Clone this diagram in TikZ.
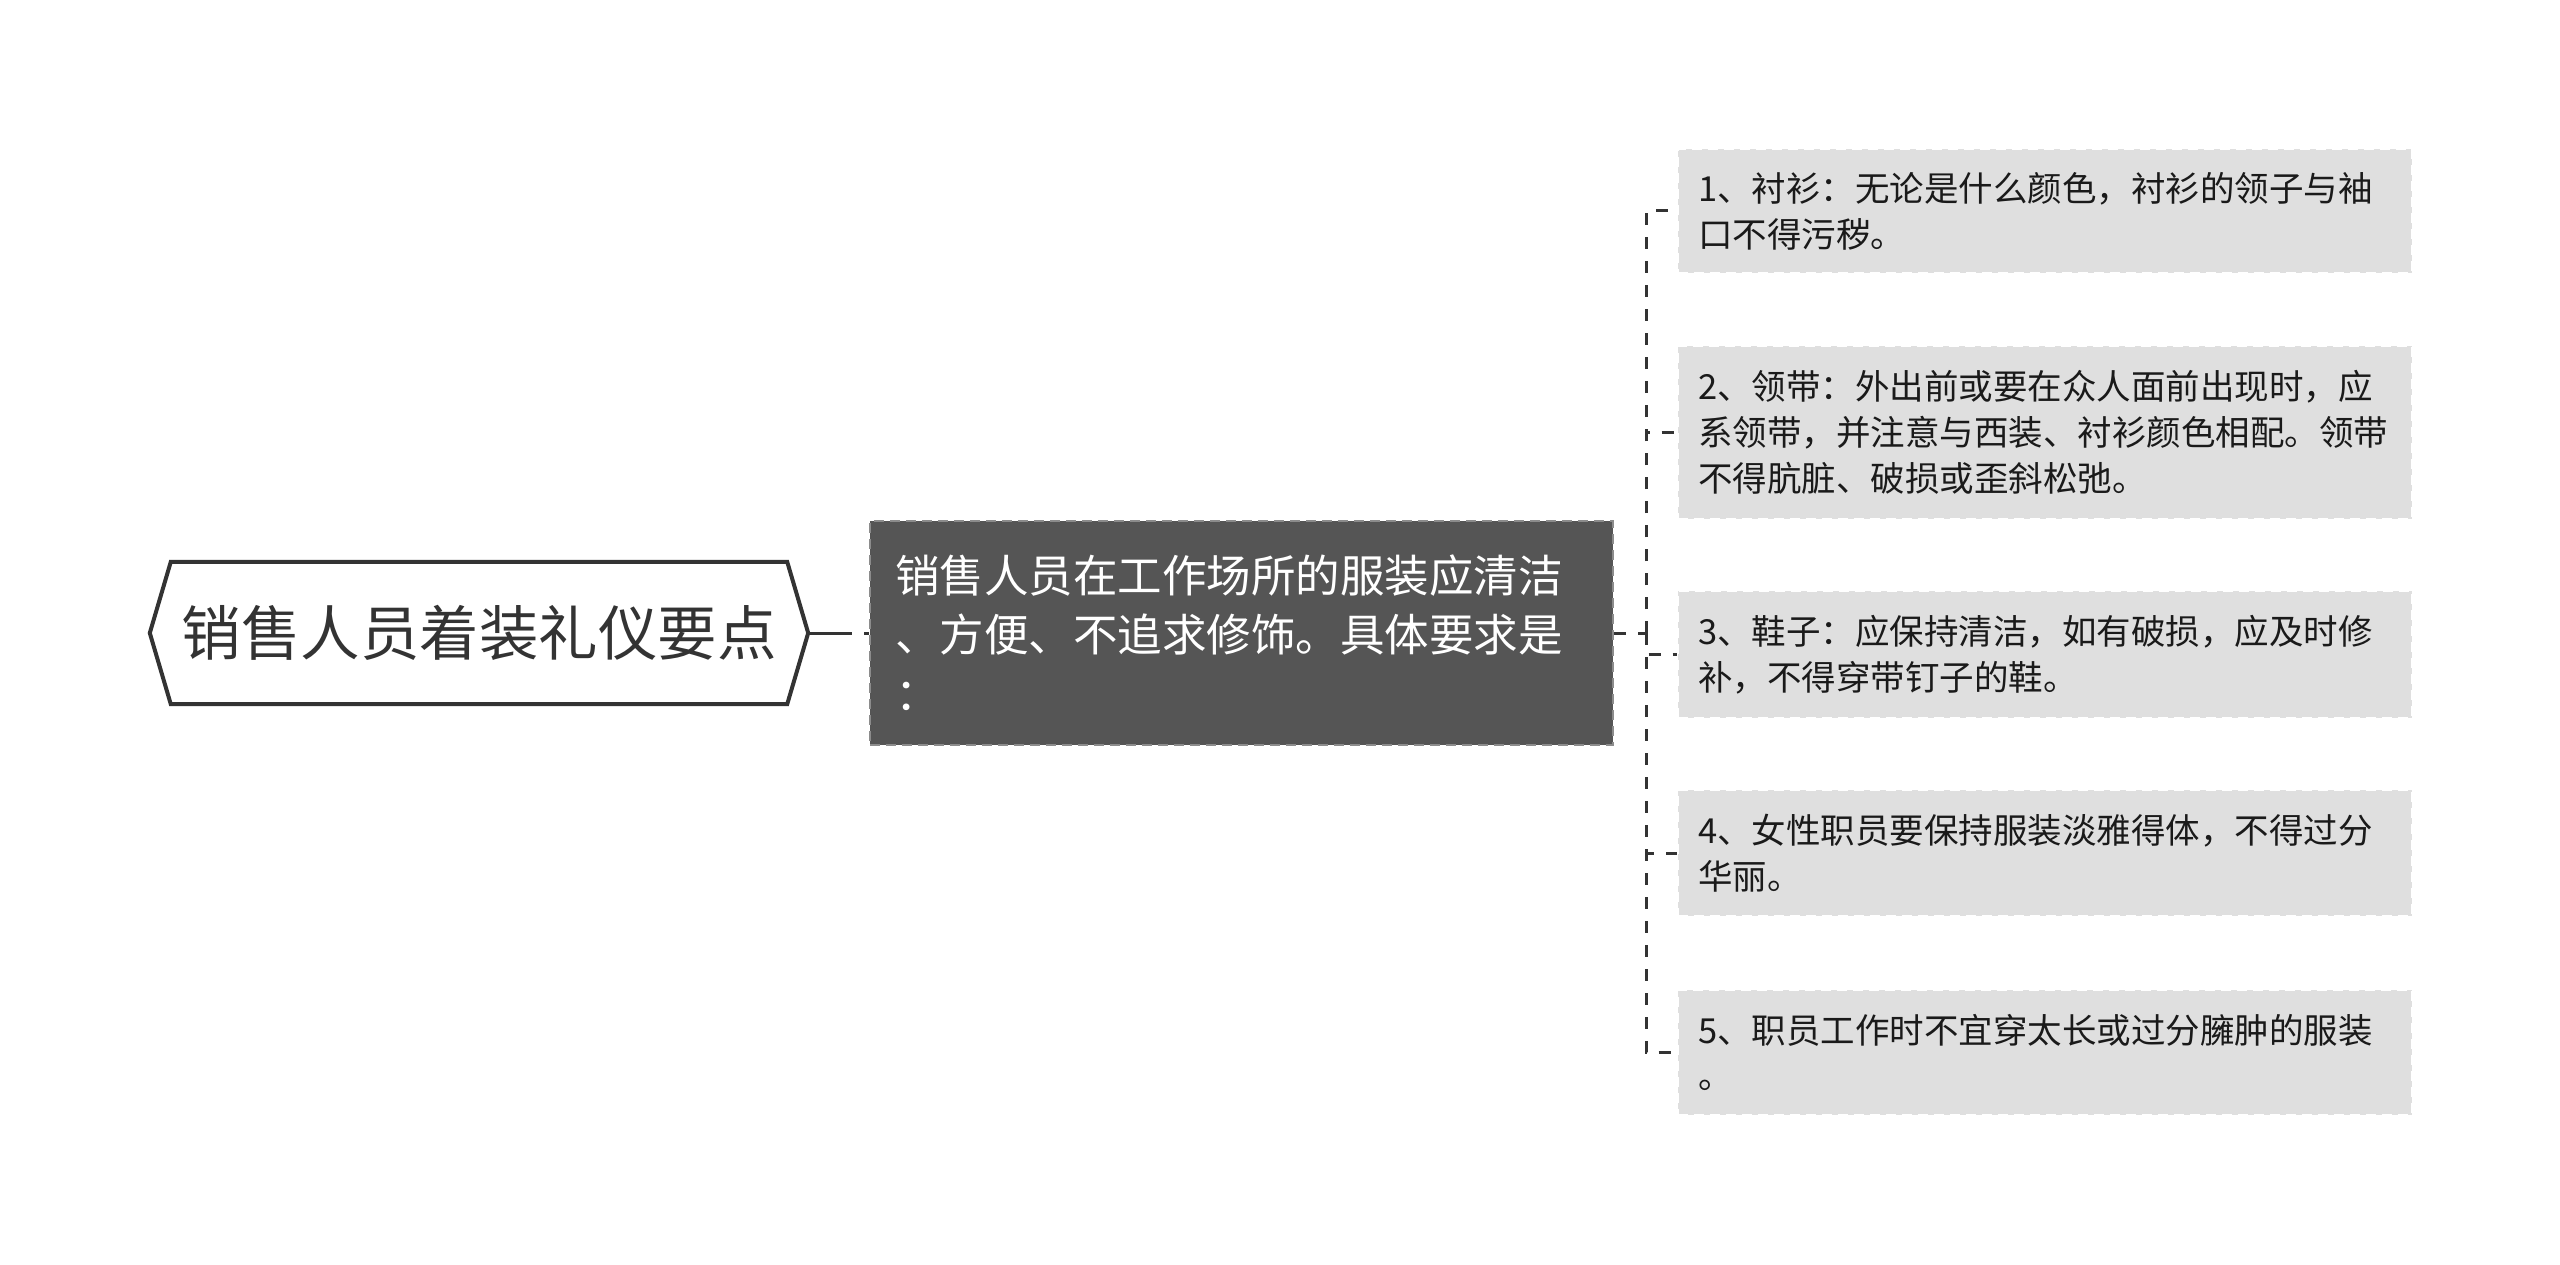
\documentclass[tikz,border=0pt]{standalone}
\usepackage{fontspec}
\setmainfont{Noto Sans CJK SC}
\usepackage{xcolor}
\usepackage{tikz}
\usetikzlibrary{arrows}

\definecolor{rootgray}{HTML}{333333}
\definecolor{linegray}{HTML}{333333}
\definecolor{topicfill}{HTML}{555555}
\definecolor{topicborder}{HTML}{8C8C8C}
\definecolor{itemfill}{HTML}{DFDFDF}
\definecolor{itemtext}{HTML}{1A1A1A}

\begin{document}
\begin{tikzpicture}[x=1pt,y=-1pt,
    root node/.style={rectangle,minimum width=616pt,minimum height=142pt,inner sep=0pt,text=rootgray,font=\fontsize{59.5}{70}\selectfont},
    topic node/.style={rectangle,draw=topicborder,fill=topicfill,line width=2pt,dash pattern=on 10pt off 6pt,text=white,text width=693pt,inner xsep=25pt,inner ysep=0pt,minimum height=224pt,align=left,font=\fontsize{44.5}{59}\selectfont},
    item node/.style={rectangle,draw=white,fill=itemfill,line width=2pt,dash pattern=on 10pt off 6pt,text=itemtext,text width=694pt,inner xsep=20pt,inner ysep=0pt,align=left,font=\fontsize{34.5}{45.7}\selectfont},
    link/.style={draw=linegray,line width=3pt,dash pattern=on 12pt off 12pt}]
    \useasboundingbox (0,0) rectangle (2560,1265);

    \node[root node] (root) at (479,633) {销售人员着装礼仪要点};
    \draw[rootgray,line width=4pt,line join=miter]
      (root.north west) -- (root.north east) -- ([xshift=21pt]root.east) -- (root.south east)
      -- (root.south west) -- ([xshift=-21pt]root.west) -- cycle;

    \node[topic node] (main) at (1241.5,633) {销售人员在工作场所的服装应清洁\\、方便、不追求修饰。具体要求是\\：};

    \node[item node,minimum height=124pt] (1) at (2045,211) {1、衬衫：无论是什么颜色，衬衫的领子与袖\\口不得污秽。};
    \node[item node,minimum height=173pt] (2) at (2045,432.5) {2、领带：外出前或要在众人面前出现时，应\\系领带，并注意与西装、衬衫颜色相配。领带\\不得肮脏、破损或歪斜松弛。};
    \node[item node,minimum height=127pt] (3) at (2045,654.5) {3、鞋子：应保持清洁，如有破损，应及时修\\补，不得穿带钉子的鞋。};
    \node[item node,minimum height=126pt] (4) at (2045,853) {4、女性职员要保持服装淡雅得体，不得过分\\华丽。};
    \node[item node,minimum height=125pt] (5) at (2045,1052.5) {5、职员工作时不宜穿太长或过分臃肿的服装\\。};

    \coordinate (fork) at (1646,633);

    \draw[draw=linegray,line width=3pt,dash pattern=on 44pt off 12pt] ([xshift=21pt]root.east) -- (main.west);
    \draw[link] (main.east) -- (fork);
    \foreach \i in {1,...,5}
      \draw[link] (fork) |- (\i.west);
\end{tikzpicture}
\end{document}
